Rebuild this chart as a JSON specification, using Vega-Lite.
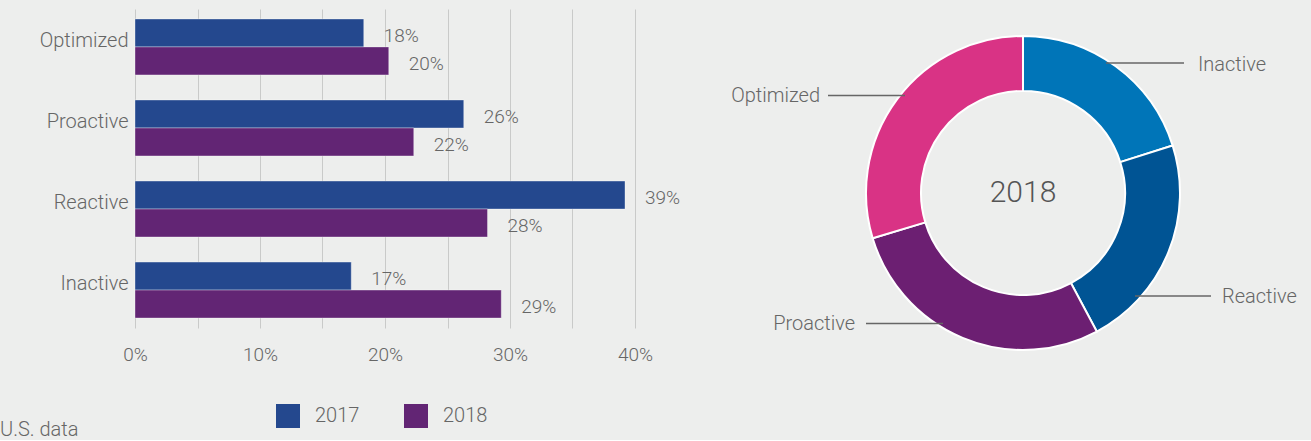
{
  "$schema": "https://vega.github.io/schema/vega-lite/v6.json",
  "background": "#edeeed",
  "padding": {"left": 0, "top": 9, "right": 0, "bottom": 0},
  "config": {"view": {"stroke": null}, "font": "Roboto"},
  "spacing": 50,
  "title": {"text": "U.S. data", "orient": "bottom", "anchor": "start", "frame": "bounds", "fontSize": 20, "fontWeight": 300, "color": "#666666", "offset": -8},
  "resolve": {"scale": {"color": "independent"}, "legend": {"color": "independent"}},
  "hconcat": [
    {
      "width": 500,
      "height": 319,
      "data": {"values": [
        {"level": "Optimized", "year": "2017", "value": 0.183},
        {"level": "Optimized", "year": "2018", "value": 0.203},
        {"level": "Proactive", "year": "2017", "value": 0.263},
        {"level": "Proactive", "year": "2018", "value": 0.223},
        {"level": "Reactive", "year": "2017", "value": 0.392},
        {"level": "Reactive", "year": "2018", "value": 0.282},
        {"level": "Inactive", "year": "2017", "value": 0.173},
        {"level": "Inactive", "year": "2018", "value": 0.293}
      ]},
      "encoding": {
        "y": {"field": "level", "type": "nominal", "sort": ["Optimized", "Proactive", "Reactive", "Inactive"],
          "scale": {"paddingInner": 0.31, "paddingOuter": 0.123},
          "axis": {"title": null, "ticks": false, "domain": false, "labelFontSize": 20, "labelFontWeight": 300, "labelColor": "#666666", "labelPadding": 7, "minExtent": 135, "maxExtent": 135, "labelOffset": -6}},
        "yOffset": {"field": "year", "type": "nominal", "sort": ["2017", "2018"]},
        "x": {"field": "value", "type": "quantitative", "scale": {"domain": [0, 0.4]},
          "axis": {"title": null, "values": [0, 0.05, 0.1, 0.15, 0.2, 0.25, 0.3, 0.35, 0.4], "format": ".0%",
            "labelExpr": "round(datum.value * 100) % 10 === 0 ? datum.label : ''",
            "grid": true, "gridColor": "#c9cac9", "gridWidth": 1, "domain": false, "ticks": false,
            "labelFontSize": 19, "labelFontWeight": 300, "labelColor": "#666666", "labelPadding": 17, "labelFlush": false}}
      },
      "layer": [
        {
          "mark": {"type": "bar", "stroke": "#ffffff", "strokeOpacity": 0.35, "strokeWidth": 1},
          "encoding": {
            "color": {"field": "year", "type": "nominal",
              "scale": {"domain": ["2017", "2018"], "range": ["#24488e", "#622574"]},
              "legend": {"title": null, "orient": "none", "legendX": 141, "legendY": 395, "direction": "horizontal",
                "symbolType": "square", "symbolSize": 576, "symbolStrokeWidth": 0, "symbolOpacity": 1,
                "labelFontSize": 20, "labelFontWeight": 300, "labelColor": "#666666", "labelOffset": 15, "columnPadding": 44}}
          }
        },
        {
          "mark": {"type": "text", "align": "left", "baseline": "middle", "dx": 20, "dy": 3, "fontSize": 19, "fontWeight": 300, "color": "#666666"},
          "encoding": {"text": {"field": "value", "type": "quantitative", "format": ".0%"}}
        }
      ]
    },
    {
      "width": 576,
      "height": 368,
      "layer": [
        {
          "data": {"values": [
            {"level": "Inactive", "value": 20, "rank": 1},
            {"level": "Reactive", "value": 22, "rank": 2},
            {"level": "Proactive", "value": 28, "rank": 3},
            {"level": "Optimized", "value": 29.5, "rank": 4}
          ]},
          "mark": {"type": "arc", "outerRadius": 157, "innerRadius": 102, "stroke": "#ffffff", "strokeWidth": 2},
          "encoding": {
            "theta": {"field": "value", "type": "quantitative", "stack": true},
            "color": {"field": "level", "type": "nominal",
              "scale": {"domain": ["Inactive", "Reactive", "Proactive", "Optimized"], "range": ["#0075b8", "#005494", "#6c1f72", "#d93385"]},
              "legend": null},
            "order": {"field": "rank", "type": "quantitative"}
          }
        },
        {
          "data": {"values": [{"t": "2018"}]},
          "mark": {"type": "text", "fontSize": 30, "fontWeight": 300, "color": "#555555", "baseline": "middle", "align": "center"},
          "encoding": {"text": {"field": "t", "type": "nominal"}}
        },
        {
          "data": {"values": [
            {"level": "Inactive", "x1": 83, "x2": 161, "y": 130, "tx": 175, "ty": 128, "side": "right"},
            {"level": "Reactive", "x1": 112, "x2": 188, "y": -103, "tx": 199, "ty": -103.5, "side": "right"},
            {"level": "Optimized", "x1": -195, "x2": -118, "y": 97.5, "tx": -203, "ty": 97.5, "side": "left"},
            {"level": "Proactive", "x1": -157, "x2": -80, "y": -130.5, "tx": -168, "ty": -130.5, "side": "left"}
          ]},
          "layer": [
            {
              "mark": {"type": "rule", "color": "#666666", "strokeWidth": 1.5},
              "encoding": {
                "x": {"field": "x1", "type": "quantitative", "scale": {"domain": [-288, 288]}, "axis": null},
                "x2": {"field": "x2"},
                "y": {"field": "y", "type": "quantitative", "scale": {"domain": [-184, 184]}, "axis": null}
              }
            },
            {
              "transform": [{"filter": "datum.side === 'right'"}],
              "mark": {"type": "text", "align": "left", "baseline": "middle", "fontSize": 20, "fontWeight": 300, "color": "#666666"},
              "encoding": {
                "x": {"field": "tx", "type": "quantitative", "scale": {"domain": [-288, 288]}, "axis": null},
                "y": {"field": "ty", "type": "quantitative", "scale": {"domain": [-184, 184]}, "axis": null},
                "text": {"field": "level", "type": "nominal"}
              }
            },
            {
              "transform": [{"filter": "datum.side === 'left'"}],
              "mark": {"type": "text", "align": "right", "baseline": "middle", "fontSize": 20, "fontWeight": 300, "color": "#666666"},
              "encoding": {
                "x": {"field": "tx", "type": "quantitative", "scale": {"domain": [-288, 288]}, "axis": null},
                "y": {"field": "ty", "type": "quantitative", "scale": {"domain": [-184, 184]}, "axis": null},
                "text": {"field": "level", "type": "nominal"}
              }
            }
          ]
        }
      ]
    }
  ]
}
